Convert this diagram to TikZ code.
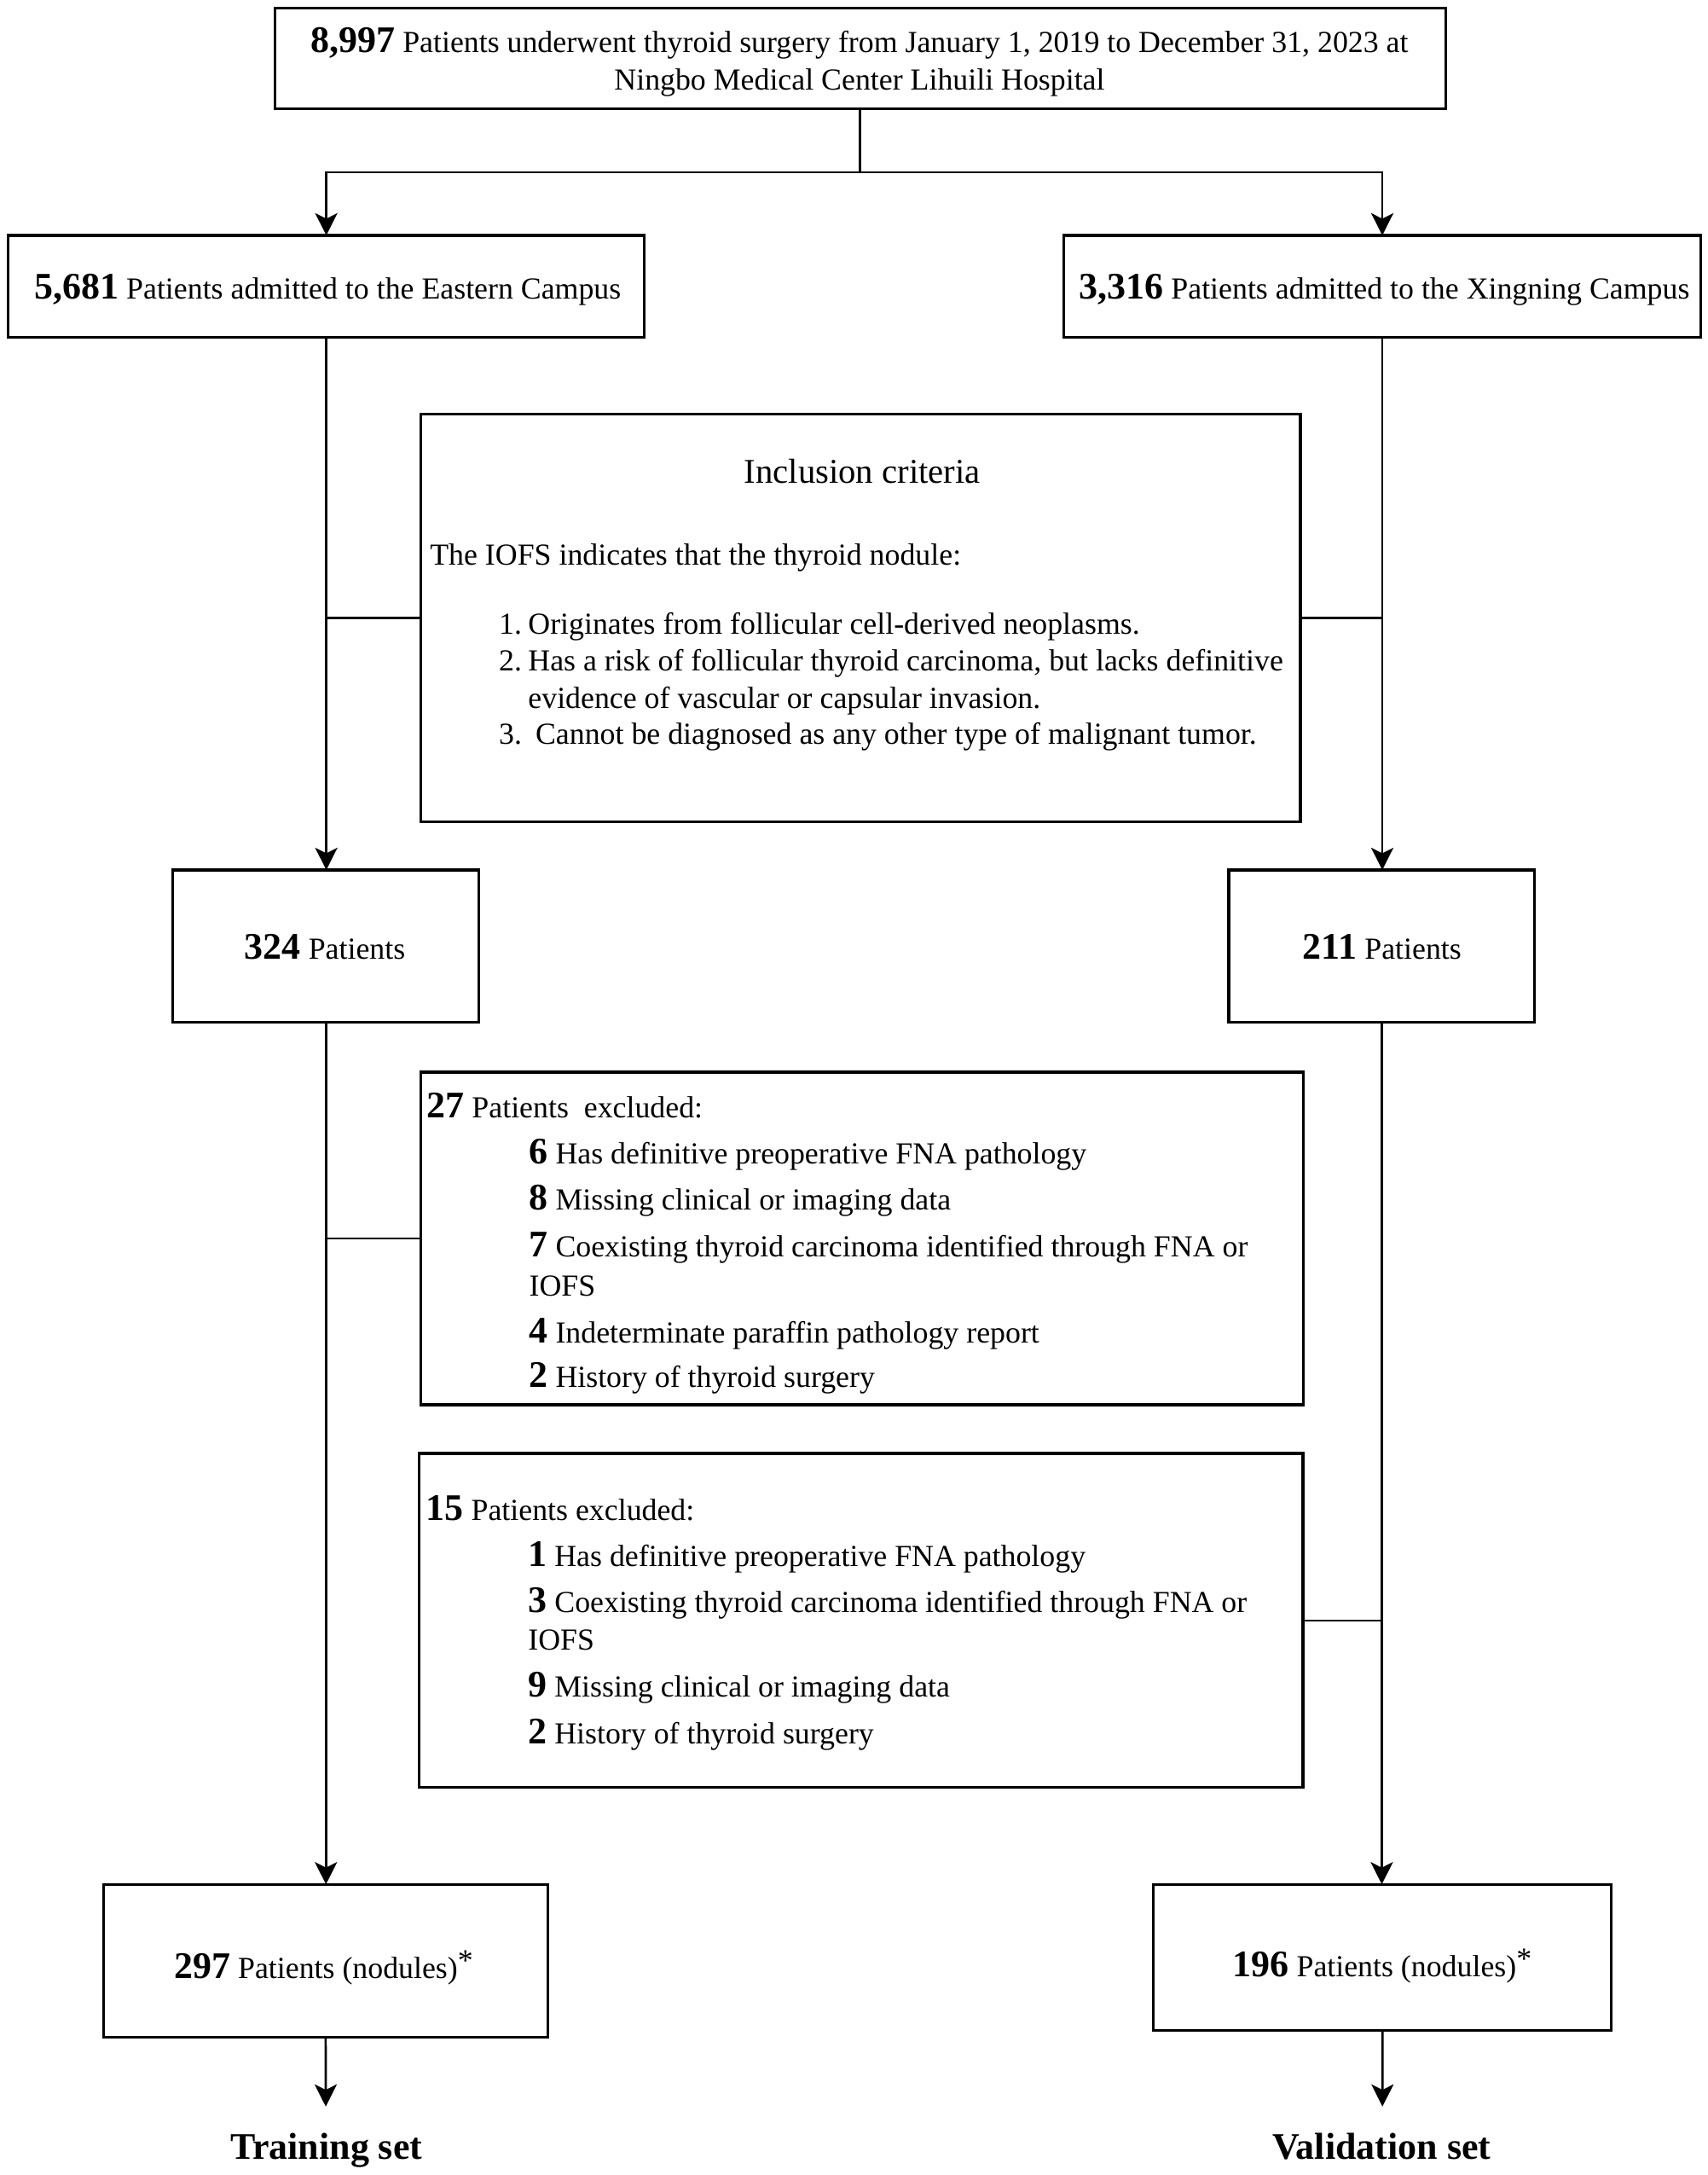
\documentclass[tikz,border=0pt]{standalone}
\usepackage{fontspec}
\setmainfont{Liberation Serif}
\usetikzlibrary{arrows.meta}
\newcommand\bnum[1]{{\fontsize{13.5}{13.5}\selectfont\bfseries #1}}
\newcommand\astmark{\raisebox{2.8pt}{*}}
\begin{document}
\begin{tikzpicture}[x=0.5pt,y=-0.5pt,
  box/.style={draw, line width=1pt, inner sep=0pt, outer sep=0pt, anchor=north west},
  conn/.style={line width=0.8pt},
  arr/.style={conn, -{Stealth[length=8pt,width=8pt,inset=2pt]}},
  txt/.style={inner sep=0pt, anchor=base, font=\fontsize{11}{13.5}\selectfont},
  txtw/.style={inner sep=0pt, anchor=base west, font=\fontsize{11}{13.5}\selectfont},
  title/.style={inner sep=0pt, anchor=base, font=\fontsize{12.5}{14}\selectfont},
  setlab/.style={inner sep=0pt, anchor=base, font=\fontsize{13.5}{14}\selectfont\bfseries},
]
\fill[white] (0,0) rectangle (1230,1566);
\useasboundingbox (0,0) rectangle (1230,1566);

% boxes
\node[box, minimum width=421.5pt, minimum height=36.35pt] (top) at (198,5.7) {};
\node[box, minimum width=229pt, minimum height=36.75pt] (L1) at (6,169.5) {};
\node[box, minimum width=229.5pt, minimum height=36.75pt] (R1) at (766,169.5) {};
\node[box, minimum width=316.75pt, minimum height=146.75pt] (incl) at (303,298) {};
\node[box, minimum width=110.25pt, minimum height=54.8pt] (B324) at (124.5,626.4) {};
\node[box, minimum width=110.15pt, minimum height=54.8pt] (B211) at (885,626.4) {};
\node[box, minimum width=317.75pt, minimum height=119.75pt] (ex1) at (303,772) {};
\node[box, minimum width=318.2pt, minimum height=120.25pt] (ex2) at (302,1046.5) {};
\node[box, minimum width=160.15pt, minimum height=54.95pt] (B297) at (74.4,1356.7) {};
\node[box, minimum width=164.8pt, minimum height=52.65pt] (B196) at (830.8,1356.7) {};

% texts
\node[txt] (t1a) at (619,37.5) {\bnum{8,997} Patients underwent thyroid surgery from January 1, 2019 to December 31, 2023 at};
\node[txt] (t1b) at (619,64.5) {Ningbo Medical Center Lihuili Hospital};
\node[txt] (tL1) at (236,215) {\bnum{5,681} Patients admitted to the Eastern Campus};
\node[txt] (tR1) at (997,215) {\bnum{3,316} Patients admitted to the Xingning Campus};

\node[title] (ititle) at (621,348) {Inclusion criteria};
\node[txtw] (iintro) at (309.3,407) {The IOFS indicates that the thyroid nodule:};
\node[txtw] (in1) at (359,456.6) {1.};
\node[txtw] (it1) at (380,456.6) {Originates from follicular cell-derived neoplasms.};
\node[txtw] (in2) at (359,483.3) {2.};
\node[txtw] (it2) at (380,483.3) {Has a risk of follicular thyroid carcinoma, but lacks definitive};
\node[txtw] (it2b) at (380,510) {evidence of vascular or capsular invasion.};
\node[txtw] (in3) at (359,535.9) {3.};
\node[txtw] (it3) at (385.3,535.9) {Cannot be diagnosed as any other type of malignant tumor.};

\node[txt] (t324) at (234,690.8) {\bnum{324} Patients};
\node[txt] (t211) at (995.4,690.8) {\bnum{211} Patients};

\node[txtw] (e1h) at (307,805) {\bnum{27} Patients\ \ excluded:};
\node[txtw] (e1a) at (380.7,838) {\bnum{6} Has definitive preoperative FNA pathology};
\node[txtw] (e1b) at (380.7,871) {\bnum{8} Missing clinical or imaging data};
\node[txtw] (e1c) at (380.7,905) {\bnum{7} Coexisting thyroid carcinoma identified through FNA or};
\node[txtw] (e1c2) at (380.7,933) {IOFS};
\node[txtw] (e1d) at (380.7,967) {\bnum{4} Indeterminate paraffin pathology report};
\node[txtw] (e1e) at (380.7,999) {\bnum{2} History of thyroid surgery};

\node[txtw] (e2h) at (306.5,1094.8) {\bnum{15} Patients excluded:};
\node[txtw] (e2a) at (380,1128) {\bnum{1} Has definitive preoperative FNA pathology};
\node[txtw] (e2b) at (380,1161) {\bnum{3} Coexisting thyroid carcinoma identified through FNA or};
\node[txtw] (e2b2) at (380,1188) {IOFS};
\node[txtw] (e2c) at (380,1222) {\bnum{9} Missing clinical or imaging data};
\node[txtw] (e2d) at (380,1255.6) {\bnum{2} History of thyroid surgery};

\node[txtw] (t297) at (125,1424.6) {\bnum{297} Patients (nodules)\astmark};
\node[txtw] (t196) at (887.4,1423.2) {\bnum{196} Patients (nodules)\astmark};

\node[setlab] (train) at (235,1554.6) {Training set};
\node[setlab] (valid) at (995,1554.6) {Validation set};

% connectors
\coordinate (j1) at (619.5,124);
\coordinate (endL) at (234.6,1516.7);
\coordinate (endR) at (995.6,1516.7);
\draw[conn] (top.south) -- (j1);
\draw[arr] (j1) -| (L1.north);
\draw[arr] (j1) -| (R1.north);
\draw[arr] (L1.south) -- (L1.south |- B324.north);
\draw[arr] (R1.south) -- (R1.south |- B211.north);
\draw[conn] (incl.west) -- (incl.west -| L1.south);
\draw[conn] (incl.east) -- (incl.east -| R1.south);
\draw[arr] (B324.south) -- (B324.south |- B297.north);
\draw[arr] (B211.south) -- (B211.south |- B196.north);
\draw[conn] (ex1.west) -- (ex1.west -| B324.south);
\draw[conn] (ex2.east) -- (ex2.east -| B211.south);
\draw[arr] (B297.south) -- (endL);
\draw[arr] (B196.south) -- (endR);
\end{tikzpicture}
\end{document}
